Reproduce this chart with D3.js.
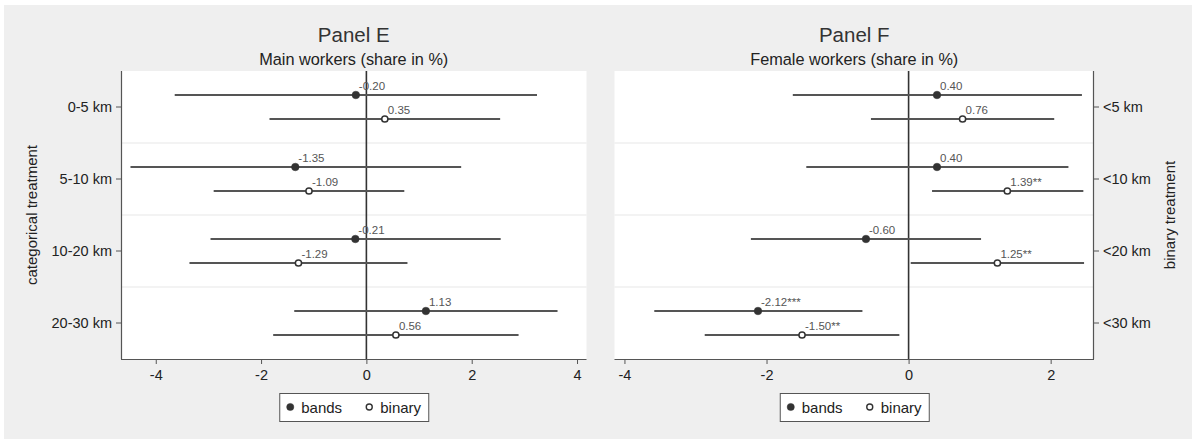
<!DOCTYPE html>
<html><head><meta charset="utf-8">
<script src="https://cdn.jsdelivr.net/npm/d3@7"></script>
<style>
html,body{margin:0;padding:0;background:#fff;}
svg{display:block;font-family:"Liberation Sans",Arial,Helvetica,sans-serif;}
</style></head>
<body><svg id="chart" width="1192" height="439"></svg>
<script>
// ---- data ----
const seriesNames = ["bands", "binary"];
const categoriesE = ["0-5 km", "5-10 km", "10-20 km", "20-30 km"];
const categoriesF = ["<5 km", "<10 km", "<20 km", "<30 km"];

const eBandsEst = [-0.20, -1.35, -0.21, 1.13];
const eBandsLo  = [-3.64, -4.48, -2.96, -1.37];
const eBandsHi  = [3.24, 1.80, 2.55, 3.63];
const eBandsLbl = ["-0.20", "-1.35", "-0.21", "1.13"];
const eBinEst = [0.35, -1.09, -1.29, 0.56];
const eBinLo  = [-1.84, -2.90, -3.36, -1.77];
const eBinHi  = [2.54, 0.72, 0.78, 2.89];
const eBinLbl = ["0.35", "-1.09", "-1.29", "0.56"];

const fBandsEst = [0.40, 0.40, -0.60, -2.12];
const fBandsLo  = [-1.63, -1.44, -2.22, -3.58];
const fBandsHi  = [2.44, 2.25, 1.02, -0.65];
const fBandsLbl = ["0.40", "0.40", "-0.60", "-2.12***"];
const fBinEst = [0.76, 1.39, 1.25, -1.50];
const fBinLo  = [-0.53, 0.33, 0.03, -2.87];
const fBinHi  = [2.05, 2.46, 2.47, -0.13];
const fBinLbl = ["0.76", "1.39**", "1.25**", "-1.50**"];

const xTicksE = [-4, -2, 0, 2, 4];
const xTicksF = [-4, -2, 0, 2];
const xDomainE = [-4.66, 4.18];
const xDomainF = [-4.14, 2.61];

// ---- build ----
function rows(cats, bEst, bLo, bHi, bLbl, nEst, nLo, nHi, nLbl) {
  const out = [];
  cats.forEach((c, i) => {
    out.push({cat: c, s: "bands", est: bEst[i], lo: bLo[i], hi: bHi[i], lbl: bLbl[i]});
    out.push({cat: c, s: "binary", est: nEst[i], lo: nLo[i], hi: nHi[i], lbl: nLbl[i]});
  });
  return out;
}
const dataE = rows(categoriesE, eBandsEst, eBandsLo, eBandsHi, eBandsLbl, eBinEst, eBinLo, eBinHi, eBinLbl);
const dataF = rows(categoriesF, fBandsEst, fBandsLo, fBandsHi, fBandsLbl, fBinEst, fBinLo, fBinHi, fBinLbl);

const svg = d3.select("#chart");
svg.append("rect").attr("x", 4).attr("y", 5).attr("width", 1188).attr("height", 434).attr("fill", "#efefef");

const plotTop = 71, plotBottom = 359;

function panel(cfg) {
  const g = svg.append("g");
  const x = d3.scaleLinear().domain(cfg.domain).range([cfg.left, cfg.right]);
  const y = d3.scaleBand().domain(cfg.cats).range([plotTop, plotBottom]);
  const yi = d3.scalePoint().domain(seriesNames).range([y.bandwidth() / 2 - 12, y.bandwidth() / 2 + 12]);

  g.append("rect").attr("x", cfg.left).attr("y", plotTop).attr("width", cfg.right - cfg.left)
    .attr("height", plotBottom - plotTop).attr("fill", "#fff");

  // separators
  g.selectAll(".sep").data(cfg.cats.slice(1)).join("line")
    .attr("x1", cfg.left).attr("x2", cfg.right)
    .attr("y1", d => y(d)).attr("y2", d => y(d))
    .attr("stroke", "#e8e8e8").attr("stroke-width", 1.2);

  // zero line
  g.append("line").attr("x1", x(0)).attr("x2", x(0)).attr("y1", plotTop).attr("y2", plotBottom)
    .attr("stroke", "#333").attr("stroke-width", 1.6);

  // CI lines
  g.selectAll(".ci").data(cfg.data).join("line")
    .attr("x1", d => x(d.lo)).attr("x2", d => x(d.hi))
    .attr("y1", d => y(d.cat) + yi(d.s)).attr("y2", d => y(d.cat) + yi(d.s))
    .attr("stroke", "#555").attr("stroke-width", 2);

  // points
  g.selectAll(".pt").data(cfg.data).join("circle")
    .attr("cx", d => x(d.est)).attr("cy", d => y(d.cat) + yi(d.s))
    .attr("r", d => d.s === "bands" ? 3.8 : 3.1)
    .attr("fill", d => d.s === "bands" ? "#333" : "#fff")
    .attr("stroke", "#333").attr("stroke-width", d => d.s === "bands" ? 0.5 : 1.5);

  // value labels
  g.selectAll(".vl").data(cfg.data).join("text")
    .attr("x", d => x(d.est) + 3).attr("y", d => y(d.cat) + yi(d.s) - 5)
    .attr("font-size", 11.5).attr("fill", "#555").text(d => d.lbl);

  // x axis
  const xa = g.append("g").attr("transform", `translate(0,${plotBottom})`)
    .call(d3.axisBottom(x).tickValues(cfg.xticks).tickFormat(d => String(d)).tickSize(5).tickPadding(6));
  xa.select(".domain").attr("d", `M${cfg.left},0.5H${cfg.right}`).attr("stroke", "#555").attr("stroke-width", 1.2);
  xa.selectAll(".tick line").attr("stroke", "#555");
  xa.selectAll(".tick text").attr("font-size", 14.5).attr("fill", "#222").attr("font-family", null);

  // y axis
  const isLeft = cfg.side === "left";
  const ya = g.append("g").attr("transform", `translate(${isLeft ? cfg.left : cfg.right},0)`)
    .call((isLeft ? d3.axisLeft(y) : d3.axisRight(y)).tickSize(5).tickPadding(4));
  ya.select(".domain").attr("d", `M${isLeft ? 0.5 : -0.5},${plotTop}V${plotBottom}`).attr("stroke", "#555").attr("stroke-width", 1.2);
  ya.selectAll(".tick line").attr("stroke", "#555");
  ya.selectAll(".tick text").attr("font-size", 14.5).attr("fill", "#222").attr("font-family", null);
  g.append("text").attr("transform", `translate(${cfg.axTitleX},${(plotTop + plotBottom) / 2}) rotate(-90)`)
    .attr("text-anchor", "middle").attr("dy", "0.35em").attr("font-size", 15).attr("fill", "#222").text(cfg.axTitle);

  const cx = (cfg.left + cfg.right) / 2;
  g.append("text").attr("x", cx).attr("y", 42).attr("text-anchor", "middle")
    .attr("font-size", 20.5).attr("fill", "#333").text(cfg.title);
  g.append("text").attr("x", cx).attr("y", 64.5).attr("text-anchor", "middle")
    .attr("font-size", 16.3).attr("fill", "#222").text(cfg.subtitle);

  // legend
  const lw = 149, lh = 28, lx = cx - lw / 2, ly = 393;
  const lg = g.append("g").attr("transform", `translate(${lx},${ly})`);
  lg.append("rect").attr("x", 0.5).attr("y", 0.5).attr("width", lw).attr("height", lh)
    .attr("fill", "#fff").attr("stroke", "#555").attr("stroke-width", 1);
  const items = lg.selectAll(".li").data(seriesNames).join("g")
    .attr("transform", (d, i) => `translate(${11 + i * 79},${14})`);
  items.append("circle").attr("r", d => d === "bands" ? 3.6 : 3)
    .attr("fill", d => d === "bands" ? "#333" : "#fff")
    .attr("stroke", "#333").attr("stroke-width", d => d === "bands" ? 0.5 : 1.4);
  items.append("text").attr("x", 11).attr("y", 5.5).attr("font-size", 15).attr("fill", "#222").text(d => d);
}

panel({left: 121, right: 586.5, domain: xDomainE, xticks: xTicksE, cats: categoriesE, data: dataE,
  side: "left", axTitle: "categorical treatment", axTitleX: 32, title: "Panel E", subtitle: "Main workers (share in %)"});
panel({left: 614.5, right: 1094, domain: xDomainF, xticks: xTicksF, cats: categoriesF, data: dataF,
  side: "right", axTitle: "binary treatment", axTitleX: 1170, title: "Panel F", subtitle: "Female workers (share in %)"});
</script></body></html>
